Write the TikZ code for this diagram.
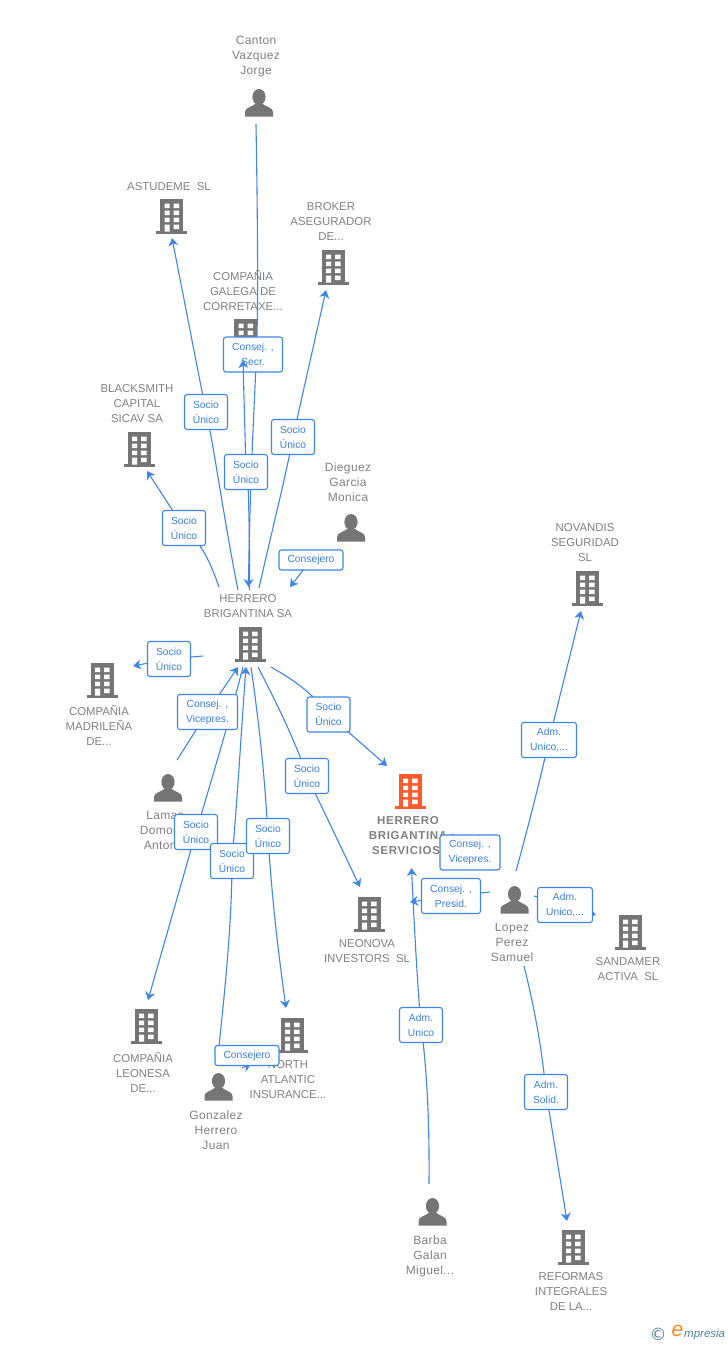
\documentclass[tikz,border=0pt]{standalone}
\usepackage{fontspec}
\setmainfont{Liberation Sans}
\newfontfamily\dejavu{DejaVu Sans}
\usetikzlibrary{arrows.meta,backgrounds}
\pgfdeclarelayer{top}
\pgfsetlayers{main,top}
\definecolor{ntext}{HTML}{808080}
\definecolor{icon}{HTML}{757575}
\definecolor{hot}{HTML}{FF5A2B}
\definecolor{link}{HTML}{3F85E3}
\definecolor{lbltxt}{HTML}{3A80DC}
\definecolor{logot}{HTML}{4F8296}
\definecolor{logoo}{HTML}{F58A1F}
\tikzset{
  x=1pt,y=-1pt,
  ntitle/.style={font=\fontsize{11.4}{15}\selectfont,text=ntext,align=center,inner sep=0pt,anchor=center},
  pname/.style={ntitle,font=\fontsize{12}{15}\selectfont\addfontfeature{LetterSpace=3}},
  bname/.style={ntitle,font=\fontsize{11.5}{15}\selectfont\bfseries\addfontfeature{LetterSpace=6}},
  lab/.style={draw=link,line width=1.1pt,fill=white,rounded corners=2.5pt,font=\fontsize{10.3}{15}\selectfont,text=lbltxt,align=center,inner sep=0pt,minimum width=43pt,minimum height=35pt},
  wide/.style={lab,minimum width=59pt},
  lone/.style={lab,minimum width=64pt,minimum height=20pt},
  conn/.style={draw=link,line width=1.1pt,-{Stealth[length=8pt,width=10pt,inset=2.5pt]}},
  plainline/.style={draw=link,line width=1.1pt},
}
% building: #1 cx, #2 top y, #3 colour, #4 name
\newcommand{\bldg}[4]{%
  \begin{scope}[shift={(#1,#2)}]
    \coordinate (#4) at (0,17);
    \fill[#3] (-11.5,0) rectangle (11.5,32.5);
    \fill[#3] (-15.5,32) rectangle (15.5,34.5);
    \fill[white] (-7,4.5) rectangle (-2,9) (2,4.5) rectangle (7.5,9)
      (-7,11.5) rectangle (-2,16) (2,11.5) rectangle (7.5,16)
      (-7,18.5) rectangle (-2,23) (2,18.5) rectangle (7.5,23)
      (-7,25.5) rectangle (-2,32.5) (2,25.5) rectangle (7.5,30);
  \end{scope}}
% person: #1 cx, #2 top y, #3 name
\newcommand{\persona}[3]{%
  \begin{scope}[shift={(#1,#2)}]
    \coordinate (#3) at (0,14);
    \fill[icon] (0,8) ellipse (6.6 and 8);
    \fill[icon] (-14,27.5) -- (-14,23) .. controls (-14,18.5) and (-7,18) .. (-4,15) -- (4,15) .. controls (7,18) and (14,18.5) .. (14,23) -- (14,27.5) -- cycle;
  \end{scope}}
\begin{document}
\begin{tikzpicture}
\useasboundingbox (0,0) rectangle (728,1345);
% icons
\persona{259}{89}{canton}
\persona{351}{514}{dieguez}
\persona{168}{774}{lamas}
\persona{514.5}{886}{lopez}
\persona{218.5}{1073}{gonzalez}
\persona{432.5}{1198}{barba}
\bldg{171.5}{199}{icon}{astudeme}
\bldg{333}{250}{icon}{broker}
\bldg{245.5}{319}{icon}{galega}
\bldg{139}{432}{icon}{blacksmith}
\bldg{250}{627}{icon}{herrero}
\bldg{102}{663}{icon}{madrilena}
\bldg{410}{774}{hot}{servicios}
\bldg{369}{897}{icon}{neonova}
\bldg{587}{571}{icon}{novandis}
\bldg{630}{915}{icon}{sandamer}
\bldg{146}{1009}{icon}{leonesa}
\bldg{292}{1018}{icon}{north}
\bldg{573}{1230}{icon}{reformas}
% names
\node[pname] (tcanton) at (256,57) {Canton\\Vazquez\\Jorge};
\node[ntitle] (tastudeme) at (169,187) {ASTUDEME\ \ SL};
\node[ntitle] (tbroker) at (331,222) {BROKER\\ASEGURADOR\\DE...};
\node[ntitle] (tgalega) at (243,291) {COMPAÑIA\\GALEGA DE\\CORRETAXE...};
\node[ntitle] (tblack) at (137,404) {BLACKSMITH\\CAPITAL\\SICAV SA};
\node[pname] (tdieguez) at (348,482) {Dieguez\\Garcia\\Monica};
\node[ntitle] (therrero) at (248,606.5) {HERRERO\\BRIGANTINA SA};
\node[ntitle] (tmadrid) at (99,725) {COMPAÑIA\\MADRILEÑA\\DE...};
\node[pname] (tlamas) at (165,830) {Lamas\\Domon\phantom{te}\\Anton\phantom{io}};
\node[bname] (tserv) at (408,836) {HERRERO\\BRIGANTINA\\SERVICIOS.};
\node[ntitle] (tneonova) at (367,951.5) {NEONOVA\\INVESTORS\ \ SL};
\node[ntitle] (tnovandis) at (585,543) {NOVANDIS\\SEGURIDAD\\SL};
\node[ntitle] (tsandamer) at (628,969.5) {SANDAMER\\ACTIVA\ \ SL};
\node[pname] (tlopez) at (512,942) {Lopez\\Perez\\Samuel};
\node[ntitle] (tleonesa) at (143,1072) {COMPAÑIA\\LEONESA\\DE...};
\node[ntitle] (tnorth) at (288,1080) {NORTH\\ATLANTIC\\INSURANCE...};
\node[pname] (tgonzalez) at (216,1130) {Gonzalez\\Herrero\\Juan};
\node[pname] (tbarba) at (430,1256) {Barba\\Galan\\Miguel...};
\node[ntitle] (treformas) at (571,1292) {REFORMAS\\INTEGRALES\\DE LA...};
% connector ends
\coordinate (e1s) at (256,124);   \coordinate (e1m) at (256.5,354.5); \coordinate (e1e) at (248.5,587);
\coordinate (e2s) at (238,590);   \coordinate (e2e) at (172,238);
\coordinate (e3s) at (249.5,590); \coordinate (e3e) at (243,360);
\coordinate (e4s) at (259,588);   \coordinate (e4e) at (326,290);
\coordinate (e5s) at (219,587);   \coordinate (e5e) at (147,471);
\coordinate (e6s) at (331,569);   \coordinate (e6e) at (290,587);
\coordinate (e7s) at (203,656);   \coordinate (e7e) at (133,666);
\coordinate (e8s) at (177,760);   \coordinate (e8e) at (238,667);
\coordinate (e9s) at (243,667);   \coordinate (e9e) at (148,1000);
\coordinate (e10s) at (219,1046); \coordinate (e10e) at (246,667);
\coordinate (e11s) at (251,667);  \coordinate (e11e) at (286,1008);
\coordinate (e12s) at (258,667);  \coordinate (e12e) at (360,887);
\coordinate (e13s) at (271,667);  \coordinate (e13e) at (387,766);
\coordinate (e14s) at (429,1184); \coordinate (e14e) at (411.5,868);
\coordinate (e15s) at (490,892);  \coordinate (e15e) at (410,902);
\coordinate (e16s) at (491,870);  \coordinate (e16e) at (452,834);
\coordinate (e17s) at (534,896);  \coordinate (e17e) at (596,915);
\coordinate (e18s) at (516,871);  \coordinate (e18e) at (581,611);
\coordinate (e19s) at (524,966);  \coordinate (e19e) at (567,1221);
\coordinate (e20s) at (242,1068); \coordinate (e20e) at (251,1064);
% labels, on the top layer
\begin{pgfonlayer}{top}
\node[wide] (l1) at (253,354.5) {Consej. ,\\Secr.};
\node[lab] (l2) at (206,412) {Socio\\Único};
\node[lab] (l3) at (246,472) {Socio\\Único};
\node[lab] (l4) at (293,437) {Socio\\Único};
\node[lab] (l5) at (184,528) {Socio\\Único};
\node[lone] (l6) at (311,560) {Consejero};
\node[lab] (l7) at (169,659) {Socio\\Único};
\node[wide,minimum width=60pt] (l8) at (207.5,712) {Consej. ,\\Vicepres.};
\node[lab] (l9) at (196,832) {Socio\\Único};
\node[lab] (l10) at (232,861) {Socio\\Único};
\node[lab] (l11) at (268,836) {Socio\\Único};
\node[lab] (l12) at (307,776) {Socio\\Único};
\node[lab] (l13) at (328.5,714.5) {Socio\\Único};
\node[lab] (l14) at (421,1025) {Adm.\\Unico};
\node[wide] (l15) at (451,896) {Consej. ,\\Presid.};
\node[wide,minimum width=60pt] (l16) at (470,852.5) {Consej. ,\\Vicepres.};
\node[lab,minimum width=55pt] (l17) at (565,905) {Adm.\\Unico,...};
\node[lab,minimum width=55pt] (l18) at (549,740) {Adm.\\Unico,...};
\node[lab] (l19) at (546,1092) {Adm.\\Solid.};
\node[lone] (l20) at (247,1055.5) {Consejero};
\end{pgfonlayer}
% connectors
\draw[conn] (e1s) .. controls (258,240) and (258,310) .. (e1m) .. controls (253,430) and (249.5,500) .. (e1e);
\draw[conn] (e2s) .. controls (224,520) and (213,440) .. (l2.center) -- (e2e);
\draw[plainline] (e3s) .. controls (250,520) and (247,440) .. (l3.center) -- (e3e);
\draw[conn] (e4s) .. controls (272,530) and (285,480) .. (l4.center) -- (e4e);
\draw[conn] (e5s) .. controls (208,555) and (198,540) .. (l5.center) -- (e5e);
\draw[conn] (e6s) -- (l6.center) -- (e6e);
\draw[conn] (e7s) -- (l7.center) -- (e7e);
\draw[conn] (e8s) -- (l8.center) -- (e8e);
\draw[conn] (e9s) .. controls (228,725) and (213,775) .. (l9.center) -- (e9e);
\draw[conn] (e10s) .. controls (225,990) and (232,920) .. (l10.center) .. controls (238,790) and (242,720) .. (e10e);
\draw[conn] (e11s) .. controls (260,730) and (265,780) .. (l11.center) .. controls (272,900) and (278,950) .. (e11e);
\draw[conn] (e12s) .. controls (275,700) and (295,740) .. (l12.center) -- (e12e);
\draw[conn] (e13s) .. controls (290,678) and (310,690) .. (l13.center) -- (e13e);
\draw[conn] (e14s) .. controls (429.5,1120) and (427,1070) .. (l14.center) .. controls (417,980) and (414,920) .. (e14e);
\draw[conn] (e15s) -- (l15.center) -- (e15e);
\draw[plainline] (e16s) -- (l16.center) -- (e16e);
\draw[conn] (e17s) -- (l17.center) -- (e17e);
\draw[conn] (e18s) .. controls (530,820) and (540,780) .. (l18.center) -- (e18e);
\draw[conn] (e19s) .. controls (535,1010) and (542,1050) .. (l19.center) -- (e19e);
\draw[conn] (e20s) -- (e20e);
\begin{pgfonlayer}{top}
\draw[conn] (243.5,372) -- (e3e);
\end{pgfonlayer}
% logo
\node[font=\dejavu\fontsize{17}{17}\selectfont,text=logot,inner sep=0pt] (logoc) at (658,1334) {©};
\node[font=\fontsize{21}{21}\selectfont\itshape,text=logoo,inner sep=0pt] (logoe) at (677.5,1331) {e};
\node[font=\fontsize{11.5}{12}\selectfont\itshape,text=logot,inner sep=0pt,anchor=west] (logot) at (684,1335) {mpresia};
\end{tikzpicture}
\end{document}
